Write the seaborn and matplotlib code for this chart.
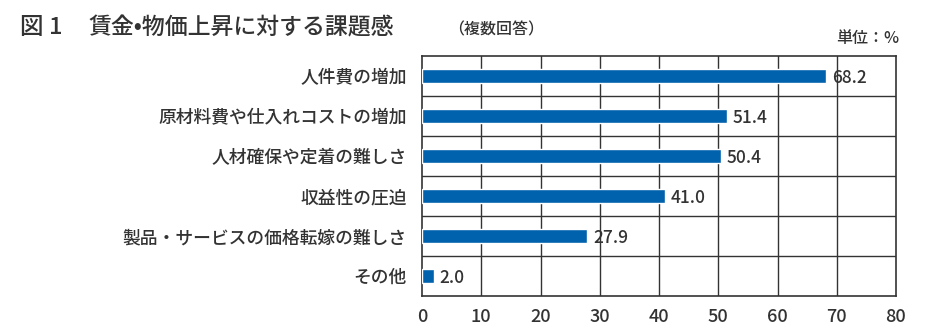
import matplotlib
matplotlib.use("Agg")
import matplotlib.pyplot as plt
import seaborn as sns
import pandas as pd

categories = ["人件費の増加", "原材料費や仕入れコストの増加", "人材確保や定着の難しさ",
              "収益性の圧迫", "製品・サービスの価格転嫁の難しさ", "その他"]
values = [68.2, 51.4, 50.4, 41.0, 27.9, 2.0]
xticks = [0, 10, 20, 30, 40, 50, 60, 70, 80]

sns.set_theme(style="white")
plt.rcParams['font.family'] = ['Noto Sans CJK JP', 'DejaVu Sans']

TXT = "#333333"
BAR = "#0062AC"

df = pd.DataFrame({"cat": categories, "val": values})

fig = plt.figure(figsize=(9.27, 3.35), dpi=100)
ax = fig.add_axes([422/927, 1-296/335, (896-422)/927, (296-56)/335])

sns.barplot(data=df, x="val", y="cat", orient="h", color=BAR, width=0.35,
            saturation=1, ax=ax, zorder=3)

ax.set_xlim(0, 80)
ax.set_ylim(len(categories)-0.5, -0.5)
ax.set_xticks(xticks)
ax.set_xticklabels([str(t) for t in xticks], fontsize=13, color=TXT, fontweight="medium")
ax.set_yticks(range(len(categories)))
ax.set_yticklabels(categories, fontsize=12.8, color=TXT, fontweight="medium")
ax.set_xlabel("")
ax.set_ylabel("")
ax.tick_params(axis="x", length=0, pad=9)
ax.tick_params(axis="y", length=0, pad=11)

for t in xticks[1:-1]:
    ax.axvline(t, color=TXT, lw=1.0, zorder=1)
for i in range(len(categories)-1):
    ax.axhline(i+0.5, color=TXT, lw=1.0, zorder=1)
for s in ax.spines.values():
    s.set_color(TXT)
    s.set_linewidth(1.2)
    s.set_visible(True)

for i, v in enumerate(values):
    ax.annotate(f"{v:.1f}", xy=(v, i), xytext=(4, -1.5), textcoords="offset points",
                ha="left", va="center", fontsize=12.5, fontweight="medium", color=TXT, zorder=4)

fig.text(20/927, 1-28/335, "図 1", fontsize=17, color=TXT, va="center", ha="left", fontweight="medium")
fig.text(89/927, 1-28/335, "賃金•物価上昇に対する課題感", fontsize=16.5, color=TXT, va="center", ha="left", fontweight="medium")
fig.text(448/927, 1-30/335, "（複数回答）", fontsize=11.5, color=TXT, va="center", ha="left", fontweight="medium")
fig.text(899/927, 1-38/335, "単位：%", fontsize=11.5, color=TXT, va="center", ha="right", fontweight="medium")

fig.savefig("out.png", dpi=100)
